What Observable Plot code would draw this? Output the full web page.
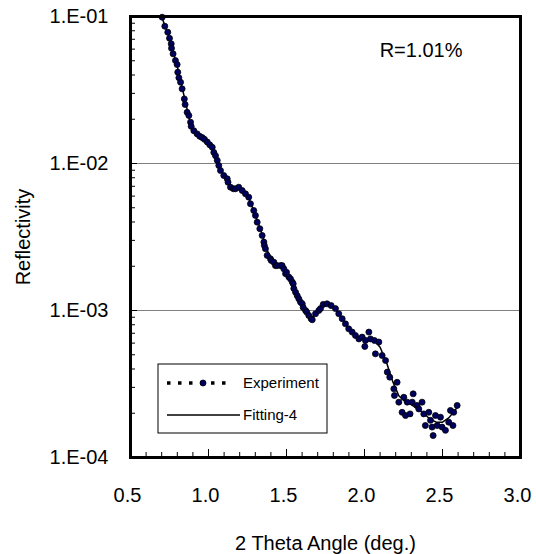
<!DOCTYPE html>
<html><head><meta charset="utf-8">
<script src="https://cdn.jsdelivr.net/npm/d3@7"></script>
<script src="https://cdn.jsdelivr.net/npm/@observablehq/plot@0.6"></script>
<style>body{margin:0;background:#fff;font-family:"Liberation Sans",Arial,sans-serif}</style>
</head><body><div id="chart"></div>
<script>
// Experimental data (2θ in degrees, reflectivity)
const expX = [0.703,0.720,0.739,0.750,0.761,0.763,0.773,0.788,0.799,0.803,0.810,0.821,0.831,0.845,0.850,0.863,0.874,0.885,0.889,0.906,0.927,0.944,0.960,0.974,0.992,1.008,1.024,1.034,1.045,1.056,1.066,1.077,1.098,1.120,1.125,1.141,1.160,1.173,1.194,1.216,1.237,1.258,1.269,1.290,1.301,1.312,1.329,1.344,1.355,1.358,1.365,1.376,1.397,1.402,1.419,1.429,1.440,1.462,1.472,1.483,1.494,1.500,1.515,1.526,1.537,1.543,1.547,1.558,1.569,1.579,1.590,1.601,1.607,1.622,1.630,1.643,1.658,1.665,1.686,1.707,1.718,1.735,1.760,1.786,1.814,1.835,1.857,1.878,1.899,1.921,1.942,1.964,1.985,2.002,2.006,2.028,2.038,2.064,2.070,2.092,2.113,2.135,2.146,2.162,2.188,2.192,2.209,2.220,2.241,2.252,2.263,2.274,2.292,2.306,2.312,2.337,2.348,2.369,2.380,2.390,2.412,2.423,2.433,2.440,2.455,2.466,2.487,2.497,2.519,2.540,2.551,2.567,2.572,2.594];
const expR = [0.0989,0.0859,0.0782,0.0711,0.0652,0.0608,0.0557,0.0502,0.0471,0.0418,0.0383,0.0357,0.0322,0.0275,0.0252,0.0223,0.0212,0.0191,0.0179,0.0167,0.0159,0.0153,0.0150,0.0146,0.0140,0.0134,0.0129,0.0119,0.0113,0.0105,0.00968,0.00895,0.00828,0.00787,0.00746,0.00690,0.00673,0.00673,0.00690,0.00655,0.00622,0.00590,0.00532,0.00479,0.00443,0.00399,0.00360,0.00324,0.00292,0.00277,0.00263,0.00237,0.00225,0.00219,0.00213,0.00202,0.00202,0.00202,0.00202,0.00192,0.00178,0.00182,0.00169,0.00164,0.00156,0.00152,0.00141,0.00133,0.00126,0.00120,0.00114,0.00111,0.00105,0.00100,0.000975,0.000925,0.000879,0.000865,0.000951,0.00100,0.00103,0.00110,0.00111,0.00108,0.00103,0.000951,0.000879,0.000811,0.000750,0.000713,0.000676,0.000641,0.000659,0.000569,0.000625,0.000713,0.000641,0.000625,0.000507,0.000610,0.000494,0.000457,0.000381,0.000352,0.000293,0.000264,0.000325,0.000238,0.000203,0.000257,0.000193,0.000238,0.000198,0.000238,0.000271,0.000226,0.000214,0.000238,0.000198,0.000165,0.000203,0.000179,0.000161,0.000141,0.000193,0.000165,0.000188,0.000161,0.000153,0.000174,0.000209,0.000165,0.000203,0.000226];

// Fitting-4 curve
const fitX = [0.695,0.75,0.80,0.85,0.88,0.91,0.95,1.00,1.03,1.06,1.10,1.14,1.18,1.22,1.26,1.30,1.34,1.38,1.42,1.46,1.50,1.54,1.58,1.62,1.66,1.70,1.74,1.78,1.82,1.86,1.90,1.94,1.98,2.02,2.06,2.10,2.14,2.18,2.22,2.26,2.30,2.34,2.38,2.42,2.46,2.50,2.54,2.58,2.60];
const fitR = [0.103,0.0708,0.0457,0.0269,0.0195,0.0166,0.0151,0.0138,0.0126,0.0102,0.00813,0.00708,0.00676,0.00646,0.00575,0.00447,0.00339,0.00251,0.00214,0.00200,0.00178,0.00155,0.00120,0.00100,0.000891,0.000977,0.00110,0.00110,0.00100,0.000871,0.000759,0.000676,0.000646,0.000646,0.000631,0.000562,0.000447,0.000331,0.000263,0.000240,0.000229,0.000214,0.000200,0.000182,0.000174,0.000174,0.000186,0.000209,0.000224];

// Axis ticks and labels
const xTicks = [0.5,1.0,1.5,2.0,2.5,3.0];
const xTickLabels = ["0.5","1.0","1.5","2.0","2.5","3.0"];
const xMinor = [0.6,0.7,0.8,0.9,1.1,1.2,1.3,1.4,1.6,1.7,1.8,1.9,2.1,2.2,2.3,2.4,2.6,2.7,2.8,2.9];
const yTicks = [1e-4,1e-3,1e-2,1e-1];
const yTickLabels = ["1.E-04","1.E-03","1.E-02","1.E-01"];
const yGrid = [1e-3,1e-2];
const yMinor = [];
for (const dec of [1e-4,1e-3,1e-2]) for (const m of [2,3,4,5,6,7,8,9]) yMinor.push(+(m*dec).toPrecision(3));

const expData = expX.map((x,i)=>({x, r: expR[i]}));
const fitData = fitX.map((x,i)=>({x, r: fitR[i]}));

const W=536, H=554, mL=130, mR=16, mT=16, mB=97;
const plotW = W-mL-mR, plotH = H-mT-mB;
const font = '"Liberation Sans", Arial, sans-serif';

const chart = Plot.plot({
  width: W, height: H,
  marginLeft: mL, marginRight: mR, marginTop: mT, marginBottom: mB,
  style: {fontFamily: font, fontSize: "20px", color: "black", background: "white", overflow: "visible"},
  x: {domain: [0.5, 3.0]},
  y: {type: "log", domain: [1e-4, 1e-1]},
  marks: [
    Plot.ruleY(yGrid, {stroke: "#808080", strokeWidth: 1}),
    Plot.line(fitData, {x: "x", y: "r", stroke: "black", strokeWidth: 1.5, clip: true}),
    Plot.dot(expData, {x: "x", y: "r", r: 3, fill: "#000060", stroke: "black", strokeWidth: 0.8}),
    Plot.tickX(xMinor, {x: d => d, insetTop: plotH - 5, stroke: "black"}),
    Plot.tickX(xTicks, {x: d => d, insetTop: plotH - 8, stroke: "black"}),
    Plot.tickY(yMinor, {y: d => d, insetRight: plotW - 5, stroke: "black"}),
    Plot.tickY(yTicks, {y: d => d, insetRight: plotW - 7, stroke: "black"}),
    Plot.axisX({ticks: xTicks, tickSize: 0, tickPadding: 30, dx: -3, fontSize: 20,
      tickFormat: d => xTickLabels[xTicks.indexOf(d)],
      label: "2 Theta Angle (deg.)", labelAnchor: "center", labelArrow: "none", labelOffset: 92}),
    Plot.axisY({ticks: yTicks, tickSize: 0, tickPadding: 22, fontSize: 20,
      tickFormat: d => yTickLabels[yTicks.indexOf(d)],
      label: "Reflectivity", labelAnchor: "center", labelArrow: "none", labelOffset: 115}),
    Plot.frame({stroke: "black", strokeWidth: 3}),
    Plot.text(["R=1.01%"], {frameAnchor: "top-right", textAnchor: "end", lineAnchor: "middle", dx: -58, dy: 34, fontSize: 20, fill: "black"})
  ]
});
document.getElementById("chart").appendChild(chart);

// Legend box
const svg = d3.select(chart);
const lg = svg.append("g").attr("font-family", font).attr("font-size", 15).attr("text-anchor", "start");
lg.append("rect").attr("x", 158).attr("y", 364).attr("width", 169).attr("height", 69)
  .attr("fill", "white").attr("stroke", "black").attr("stroke-width", 1);
lg.append("line").attr("x1", 167).attr("x2", 232).attr("y1", 383).attr("y2", 383)
  .attr("stroke", "black").attr("stroke-width", 3.5).attr("stroke-dasharray", "3.5,7.5");
lg.append("circle").attr("cx", 203).attr("cy", 383).attr("r", 3).attr("fill", "#000060").attr("stroke", "black").attr("stroke-width", 0.8);
lg.append("text").attr("x", 243).attr("y", 383).attr("dy", "0.35em").attr("text-anchor", "start").text("Experiment");
lg.append("line").attr("x1", 167).attr("x2", 240).attr("y1", 415).attr("y2", 415)
  .attr("stroke", "black").attr("stroke-width", 1.5);
lg.append("text").attr("x", 243).attr("y", 415).attr("dy", "0.35em").attr("text-anchor", "start").text("Fitting-4");
</script>
</body></html>
